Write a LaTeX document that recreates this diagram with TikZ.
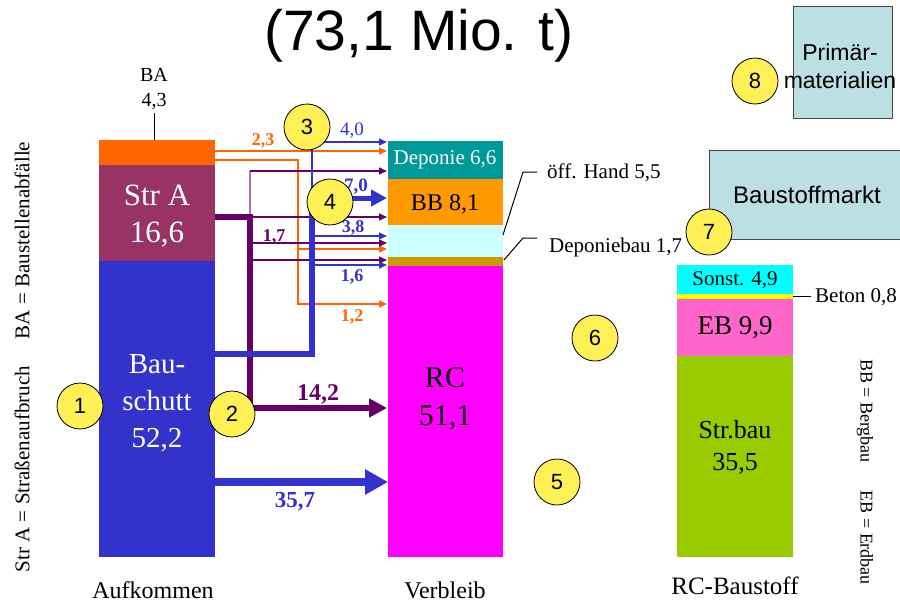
\documentclass[tikz,border=0pt]{standalone}
\usepackage{fontspec}
\setmainfont{Liberation Serif}
\setsansfont{Liberation Sans}
\usetikzlibrary{arrows.meta}
\definecolor{baorange}{HTML}{FF6600}
\definecolor{strapurple}{HTML}{993366}
\definecolor{bsblue}{HTML}{3333CC}
\definecolor{depteal}{HTML}{009999}
\definecolor{bborange}{HTML}{FF9900}
\definecolor{handcyan}{HTML}{CCFFFF}
\definecolor{depbrown}{HTML}{CC9900}
\definecolor{rcmagenta}{HTML}{FF00FF}
\definecolor{sonstcyan}{HTML}{00FFFF}
\definecolor{betonyellow}{HTML}{FFFF00}
\definecolor{ebpink}{HTML}{FF66CC}
\definecolor{strgreen}{HTML}{99CC00}
\definecolor{flowpurple}{HTML}{660066}
\definecolor{markyellow}{HTML}{FFF055}
\definecolor{boxblue}{HTML}{BBDFE3}
\definecolor{boxedge}{HTML}{404848}
\newcommand{\fsz}[2]{\fontsize{#1pt}{#2pt}\selectfont}

\begin{document}
\begin{tikzpicture}[x=1pt, y=-1pt,
    thinflow/.style={line width=1.5pt, -{Triangle[length=8pt,width=7pt]}},
    flowlabel/.style={font=\bfseries\fsz{18}{20}},
    bartext/.style={align=center, inner sep=0pt},
    coltitle/.style={inner sep=0pt, font=\fsz{24}{27}},
    calltext/.style={anchor=west, inner sep=0pt, font=\fsz{21}{24}},
    callline/.style={line width=1pt},
    marker/.style={circle, draw, line width=0.8pt, fill=markyellow, minimum size=46pt, inner sep=0pt, font=\sffamily\fsz{22}{24}},
    infobox/.style={draw=boxedge, fill=boxblue, line width=1pt}]
  \useasboundingbox (0,0) rectangle (900,605);
  \clip (0,0) rectangle (900,605);

  % title
  \node[font=\sffamily\fsz{57}{60}] (title) at (419,36) {(73,1 Mio. t)};

  % bars: Aufkommen
  \fill[baorange] (99,140) rectangle (215,165);
  \fill[strapurple] (99,165) rectangle (215,261);
  \fill[bsblue] (99,261) rectangle (215,557);
  % bars: Verbleib
  \fill[depteal] (388,141) rectangle (503,179);
  \fill[bborange] (388,179) rectangle (503,225);
  \fill[handcyan] (388,225) rectangle (503,257);
  \fill[depbrown] (388,257) rectangle (503,266);
  \fill[rcmagenta] (388,266) rectangle (503,557);
  % bars: RC-Baustoff
  \fill[sonstcyan] (677,265) rectangle (793,294);
  \fill[betonyellow] (677,294) rectangle (793,299);
  \fill[ebpink] (677,299) rectangle (793,356);
  \fill[strgreen] (677,356) rectangle (793,557);

  % bar texts
  \node[bartext, white, font=\fsz{31}{37}] (stra) at (157,216) {Str A\\16,6};
  \node[bartext, white, font=\fsz{29}{37}] (bauschutt) at (157,403) {Bau-\\schutt\\52,2};
  \node[bartext, font=\fsz{30}{38}] (rc) at (445,399) {RC\\51,1};
  \node[bartext, white, font=\fsz{21}{24}] (deponie) at (445,160) {Deponie 6,6};
  \node[bartext, font=\fsz{24}{28}] (bb) at (445,204) {BB 8,1};
  \node[bartext, font=\fsz{21}{24}] (sonst) at (735,280) {Sonst. 4,9};
  \node[bartext, font=\fsz{27}{30}] (eb) at (735,328) {EB 9,9};
  \node[bartext, font=\fsz{26}{32}] (strbau) at (735,447) {Str.bau\\35,5};

  % column titles
  \node[coltitle] (aufkommen) at (153,590) {Aufkommen};
  \node[coltitle] (verbleib) at (445,590) {Verbleib};
  \node[coltitle, font=\fsz{25}{28}] (rcbaustoff) at (735,586) {RC-Baustoff};

  % BA label
  \node[bartext, font=\fsz{20}{25}] (ba) at (154,89) {BA\\4,3};
  \coordinate (batop) at (154,140);
  \draw[callline] ([yshift=-3pt]ba.south) -- (batop);

  % callouts
  \node[calltext] (offhand) at (547,173) {öff. Hand 5,5};
  \coordinate (handpt) at (503,235);
  \coordinate (handknee) at (523,172);
  \coordinate (handend) at (537,172);
  \draw[callline] (handpt) -- (handknee) -- (handend);
  \node[calltext] (depbau) at (549,247) {Deponiebau 1,7};
  \coordinate (dbpt) at (504,260);
  \coordinate (dbknee) at (523,238);
  \coordinate (dbend) at (537,238);
  \draw[callline] (dbpt) -- (dbknee) -- (dbend);
  \node[calltext] (beton) at (815,297) {Beton 0,8};
  \coordinate (betonpt) at (793,296);
  \coordinate (betonend) at (811,296);
  \draw[callline] (betonpt) -- (betonend);

  % abbreviations
  \node[rotate=90, font=\fsz{21}{24}] (abbrleft) at (22,357) {Str A = Straßenaufbruch\hspace{27pt}BA = Baustellenabfälle};
  \node[rotate=-90, font=\fsz{18}{21}] (abbrright) at (865,472) {BB = Bergbau\hspace{28pt}EB = Erdbau};

  % flows: Baustellenabfaelle
  \coordinate (baout1) at (215,151);
  \coordinate (baout2) at (215,160);
  \coordinate (bajoin) at (298,160);
  \coordinate (in23) at (387,151);
  \coordinate (in08) at (387,249);
  \coordinate (in12) at (387,304);
  \draw[thinflow, baorange] (baout1) -- (in23);
  \draw[thinflow, baorange] (baout2) -- (bajoin) |- (in12);
  \draw[thinflow, baorange] (bajoin |- in08) -- (in08);

  % flows: Strassenaufbruch
  \coordinate (saout) at (215,217);
  \coordinate (sajoin) at (250,217);
  \coordinate (satop) at (250,171);
  \coordinate (salow) at (250,408);
  \coordinate (in142) at (387,408);
  \foreach \n/\y in {a/171,b/217,c/243,d/260}
    \coordinate (pin\n) at (387,\y);
  \draw[flowpurple!55, line width=1.5pt] (sajoin) -- (satop);
  \foreach \n in {a,b,c,d}
    \draw[thinflow, flowpurple] (sajoin |- pin\n) -- (pin\n);
  \draw[flowpurple, line width=6pt, -{Triangle[length=18pt,width=18pt]}] (saout) -- (sajoin) -- (salow) -- (in142);

  % flows: Bauschutt
  \coordinate (bsout) at (215,354);
  \coordinate (bsup) at (312,354);
  \coordinate (bsfork) at (312,198);
  \coordinate (bstop) at (312,142);
  \coordinate (in40) at (387,142);
  \coordinate (in70) at (387,198);
  \coordinate (in38) at (387,236);
  \coordinate (in16) at (387,265);
  \draw[thinflow, bsblue] (bsfork) -- (bstop) -- (in40);
  \draw[thinflow, bsblue] (bsfork |- in38) -- (in38);
  \draw[thinflow, bsblue] (bsfork |- in16) -- (in16);
  \draw[bsblue, line width=6pt] (bsout) -- (bsup) -- (bsfork);
  \draw[bsblue, line width=5pt, -{Triangle[length=16pt,width=16pt]}] (bsfork) -- (in70);
  \coordinate (bsmain) at (215,482);
  \coordinate (in357) at (388,482);
  \draw[bsblue, line width=8pt, -{Triangle[length=23pt,width=24pt]}] (bsmain) -- (in357);

  % flow labels
  \node[flowlabel, baorange] (l23) at (263,141) {2,3};
  \node[font=\fsz{19}{21}, bsblue] (l40) at (352,131) {4,0};
  \node[flowlabel, bsblue, font=\bfseries\fsz{19}{21}] (l70) at (356,187) {7,0};
  \node[flowlabel, bsblue] (l38) at (353,228) {3,8};
  \node[flowlabel, flowpurple] (l17) at (274,237) {1,7};
  \node[flowlabel, bsblue] (l16) at (352,277) {1,6};
  \node[flowlabel, baorange] (l12) at (352,317) {1,2};
  \node[flowlabel, flowpurple, font=\bfseries\fsz{24}{26}] (l142) at (318,394) {14,2};
  \node[flowlabel, bsblue, font=\bfseries\fsz{23}{25}] (l357) at (295,502) {35,7};

  % market boxes
  \draw[infobox] (793,6) rectangle (892,118);
  \node[bartext, font=\sffamily\fsz{23}{28}] (primaer) at (840,66) {Primär-\\materialien};
  \draw[infobox] (709,150) rectangle (920,239);
  \node[font=\sffamily\fsz{24}{26}] (markt) at (807,195) {Baustoffmarkt};

  % numbered markers
  \node[marker] (m1) at (80,406) {1};
  \node[marker] (m2) at (232,414) {2};
  \node[marker] (m3) at (307,127) {3};
  \node[marker] (m4) at (330,202) {4};
  \node[marker] (m5) at (557,482) {5};
  \node[marker] (m6) at (595,338) {6};
  \node[marker] (m7) at (709,232) {7};
  \node[marker] (m8) at (755,81) {8};
\end{tikzpicture}
\end{document}
